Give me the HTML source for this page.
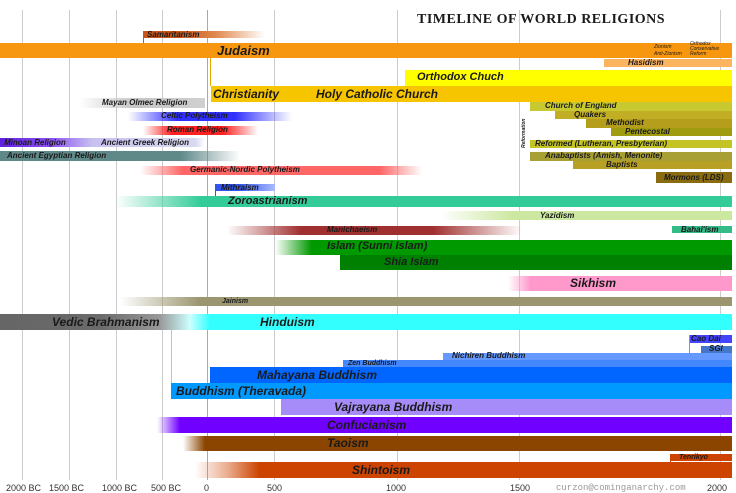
<!DOCTYPE html><html><head><meta charset="utf-8"><style>
body{margin:0;width:736px;height:493px;background:#fff;position:relative;overflow:hidden;font-family:"Liberation Sans",sans-serif}
.g{position:absolute;top:10px;height:470px;width:1px;background:#ccc}
.b{position:absolute}
.t{position:absolute;font-style:italic;font-weight:bold;color:#1a1a1a;white-space:nowrap;line-height:1}
.ax{position:absolute;top:483px;font-size:9px;color:#333}
</style></head><body>
<div class="g" style="left:22px"></div><div class="g" style="left:69px"></div><div class="g" style="left:116px"></div><div class="g" style="left:162px"></div><div class="g" style="left:207px;background:#aaa"></div><div class="g" style="left:274px"></div><div class="g" style="left:397px"></div><div class="g" style="left:519px"></div><div class="g" style="left:720px"></div>

<div class="t" style="left:417px;top:13px;font-family:'Liberation Serif',serif;font-style:normal;font-size:14px;letter-spacing:0.5px;font-variant:small-caps">TIMELINE OF WORLD RELIGIONS</div>

<div class="b" style="left:143px;top:31px;width:122px;height:7px;background:linear-gradient(90deg,#c8561a 30%,#e08a50 60%,rgba(255,255,255,0))"></div>
<div class="b" style="left:143px;top:31px;width:1px;height:12px;background:#c8561a"></div>
<div class="t" style="left:147px;top:31px;font-size:8px">Samaritanism</div>

<div class="b" style="left:0;top:43px;width:732px;height:15px;background:#f7960f"></div>
<div class="t" style="left:217px;top:44px;font-size:13px">Judaism</div>
<div class="t" style="left:654px;top:44px;font-size:5px;font-weight:normal;line-height:7px">Zionism<br>Anti-Zionism</div>
<div class="t" style="left:690px;top:42px;font-size:5px;font-weight:normal;line-height:5px">Orthodox<br>Conservative<br>Reform</div>
<div class="b" style="left:604px;top:59px;width:128px;height:8px;background:#fbb460"></div>
<div class="t" style="left:628px;top:59px;font-size:8px">Hasidism</div>

<div class="b" style="left:405px;top:70px;width:327px;height:16px;background:#ffff00"></div>
<div class="t" style="left:417px;top:72px;font-size:11px">Orthodox Chuch</div>
<div class="b" style="left:210px;top:58px;width:1px;height:28px;background:#e0a800"></div>
<div class="b" style="left:211px;top:86px;width:521px;height:16px;background:#f7c400"></div>
<div class="t" style="left:213px;top:88px;font-size:12px">Christianity</div>
<div class="t" style="left:316px;top:88px;font-size:12px">Holy Catholic Church</div>

<div class="b" style="left:530px;top:102px;width:202px;height:9px;background:#c8c830"></div>
<div class="t" style="left:545px;top:102px;font-size:8px">Church of England</div>
<div class="b" style="left:555px;top:111px;width:177px;height:8px;background:#c2ae24"></div>
<div class="t" style="left:574px;top:111px;font-size:8px">Quakers</div>
<div class="b" style="left:586px;top:119px;width:146px;height:9px;background:#b49e1c"></div>
<div class="t" style="left:606px;top:119px;font-size:8px">Methodist</div>
<div class="b" style="left:611px;top:128px;width:121px;height:8px;background:#a09c10"></div>
<div class="t" style="left:625px;top:128px;font-size:8px">Pentecostal</div>
<div class="b" style="left:530px;top:140px;width:202px;height:8px;background:#c4c424"></div>
<div class="t" style="left:535px;top:140px;font-size:8px">Reformed (Lutheran, Presbyterian)</div>
<div class="b" style="left:530px;top:152px;width:202px;height:9px;background:#a8a034"></div>
<div class="t" style="left:545px;top:152px;font-size:8px">Anabaptists (Amish, Menonite)</div>
<div class="b" style="left:573px;top:161px;width:159px;height:8px;background:#b8a024"></div>
<div class="t" style="left:606px;top:161px;font-size:8px">Baptists</div>
<div class="b" style="left:656px;top:172px;width:76px;height:11px;background:#8a6c10"></div>
<div class="t" style="left:664px;top:174px;font-size:8px">Mormons (LDS)</div>
<div class="t" style="left:522px;top:148px;font-size:5px;transform:rotate(-90deg);transform-origin:0 0">Reformation</div>

<div class="b" style="left:80px;top:98px;width:125px;height:10px;background:linear-gradient(90deg,rgba(190,190,190,0),#c4c4c4 45%,#d0d0d0)"></div>
<div class="t" style="left:102px;top:99px;font-size:8px">Mayan Olmec Religion</div>
<div class="b" style="left:128px;top:112px;width:164px;height:9px;background:linear-gradient(90deg,rgba(40,40,255,0),#3030ff 30%,#3030ff 65%,rgba(80,80,255,0))"></div>
<div class="t" style="left:161px;top:112px;font-size:8px">Celtic Polytheism</div>
<div class="b" style="left:143px;top:126px;width:115px;height:9px;background:linear-gradient(90deg,rgba(255,0,0,0),#f22 25%,#f22 70%,rgba(255,60,60,0))"></div>
<div class="t" style="left:167px;top:126px;font-size:8px">Roman Religion</div>
<div class="b" style="left:0;top:138px;width:205px;height:9px;background:linear-gradient(90deg,#6020e0,#8a50f0 25%,#c8c0f0 45%,#d8d8f0 95%,rgba(255,255,255,0))"></div>
<div class="t" style="left:4px;top:139px;font-size:8px">Minoan Religion</div>
<div class="t" style="left:101px;top:139px;font-size:8px">Ancient Greek Religion</div>
<div class="b" style="left:0;top:151px;width:240px;height:10px;background:linear-gradient(90deg,#5f8888 75%,rgba(95,136,136,0))"></div>
<div class="t" style="left:7px;top:152px;font-size:8px">Ancient Egyptian Religion</div>
<div class="b" style="left:140px;top:166px;width:282px;height:9px;background:linear-gradient(90deg,rgba(255,100,100,0),#f66 15%,#f66 85%,rgba(255,100,100,0))"></div>
<div class="t" style="left:190px;top:166px;font-size:8px">Germanic-Nordic Polytheism</div>
<div class="b" style="left:215px;top:184px;width:60px;height:7px;background:linear-gradient(90deg,#3355ee 40%,#aabbff)"></div>
<div class="b" style="left:215px;top:184px;width:1px;height:12px;background:#3355ee"></div>
<div class="t" style="left:221px;top:184px;font-size:8px">Mithraism</div>
<div class="b" style="left:115px;top:196px;width:617px;height:11px;background:linear-gradient(90deg,rgba(50,200,150,0),#33cc99 14%)"></div>
<div class="t" style="left:228px;top:196px;font-size:11px">Zoroastrianism</div>
<div class="b" style="left:440px;top:211px;width:292px;height:9px;background:linear-gradient(90deg,rgba(204,232,160,0),#cce8a0 25%)"></div>
<div class="t" style="left:540px;top:212px;font-size:8px">Yazidism</div>
<div class="b" style="left:227px;top:226px;width:295px;height:9px;background:linear-gradient(90deg,rgba(160,40,40,0),#a03030 25%,#a03030 70%,rgba(160,40,40,0))"></div>
<div class="t" style="left:327px;top:226px;font-size:8px">Manichaeism</div>
<div class="b" style="left:672px;top:226px;width:60px;height:7px;background:#33bb88"></div>
<div class="t" style="left:681px;top:226px;font-size:8px">Bahai'ism</div>
<div class="b" style="left:275px;top:240px;width:457px;height:15px;background:linear-gradient(90deg,rgba(0,150,0,0),#009900 8%)"></div>
<div class="t" style="left:327px;top:241px;font-size:11px">Islam (Sunni Islam)</div>
<div class="b" style="left:340px;top:255px;width:392px;height:15px;background:#008000"></div>
<div class="t" style="left:384px;top:257px;font-size:11px">Shia Islam</div>
<div class="b" style="left:508px;top:276px;width:224px;height:15px;background:linear-gradient(90deg,rgba(255,150,200,0),#ff99cc 10%)"></div>
<div class="t" style="left:570px;top:277px;font-size:12px">Sikhism</div>
<div class="b" style="left:120px;top:297px;width:612px;height:9px;background:linear-gradient(90deg,rgba(155,150,112,0),#9b9670 13%)"></div>
<div class="t" style="left:222px;top:298px;font-size:7px">Jainism</div>
<div class="b" style="left:0;top:314px;width:732px;height:16px;background:linear-gradient(90deg,#666 0,#6a6a6a 100px,#999 160px,#cff 190px,#33ffff 210px)"></div>
<div class="t" style="left:52px;top:316px;font-size:12px">Vedic Brahmanism</div>
<div class="t" style="left:260px;top:316px;font-size:12px">Hinduism</div>
<div class="b" style="left:171px;top:330px;width:1px;height:53px;background:#33ffff"></div>
<div class="b" style="left:689px;top:335px;width:43px;height:8px;background:#4444ff"></div>
<div class="b" style="left:689px;top:335px;width:1px;height:25px;background:#69f"></div>
<div class="t" style="left:691px;top:335px;font-size:8px">Cao Dai</div>
<div class="b" style="left:701px;top:346px;width:31px;height:7px;background:#4477cc"></div>
<div class="t" style="left:709px;top:345px;font-size:8px">SGI</div>
<div class="b" style="left:443px;top:353px;width:289px;height:7px;background:#6699ff"></div>
<div class="t" style="left:452px;top:352px;font-size:8px">Nichiren Buddhism</div>
<div class="b" style="left:343px;top:360px;width:389px;height:8px;background:#4488ff"></div>
<div class="t" style="left:348px;top:360px;font-size:7px">Zen Buddhism</div>
<div class="b" style="left:210px;top:367px;width:522px;height:16px;background:#0066ff"></div>
<div class="t" style="left:257px;top:369px;font-size:12px">Mahayana Buddhism</div>
<div class="b" style="left:171px;top:383px;width:561px;height:16px;background:#0099ff"></div>
<div class="t" style="left:176px;top:385px;font-size:12px">Buddhism (Theravada)</div>
<div class="b" style="left:281px;top:399px;width:451px;height:16px;background:#a68cf8"></div>
<div class="t" style="left:334px;top:401px;font-size:12px">Vajrayana Buddhism</div>
<div class="b" style="left:157px;top:417px;width:575px;height:16px;background:linear-gradient(90deg,rgba(112,0,255,0),#7000ff 4%)"></div>
<div class="t" style="left:327px;top:419px;font-size:12px">Confucianism</div>
<div class="b" style="left:183px;top:436px;width:549px;height:15px;background:linear-gradient(90deg,rgba(139,69,0,0),#8b4500 4%)"></div>
<div class="t" style="left:327px;top:437px;font-size:12px">Taoism</div>
<div class="b" style="left:670px;top:454px;width:62px;height:7px;background:#cc4400"></div>
<div class="b" style="left:670px;top:454px;width:1px;height:8px;background:#cc4400"></div>
<div class="t" style="left:679px;top:454px;font-size:7px">Tenrikyo</div>
<div class="b" style="left:195px;top:462px;width:537px;height:16px;background:linear-gradient(90deg,rgba(204,68,0,0),rgba(220,120,70,.6) 6%,#cc4400 12%)"></div>
<div class="t" style="left:352px;top:464px;font-size:12px">Shintoism</div>

<div class="ax" style="left:6px">2000 BC</div><div class="ax" style="left:49px">1500 BC</div><div class="ax" style="left:102px">1000 BC</div><div class="ax" style="left:151px">500 BC</div><div class="ax" style="left:204px">0</div><div class="ax" style="left:267px">500</div><div class="ax" style="left:386px">1000</div><div class="ax" style="left:510px">1500</div><div class="ax" style="left:707px">2000</div>
<div class="ax" style="left:556px;font-family:'Liberation Mono',monospace;color:#999;font-size:9px">curzon@cominganarchy.com</div>
</body></html>
